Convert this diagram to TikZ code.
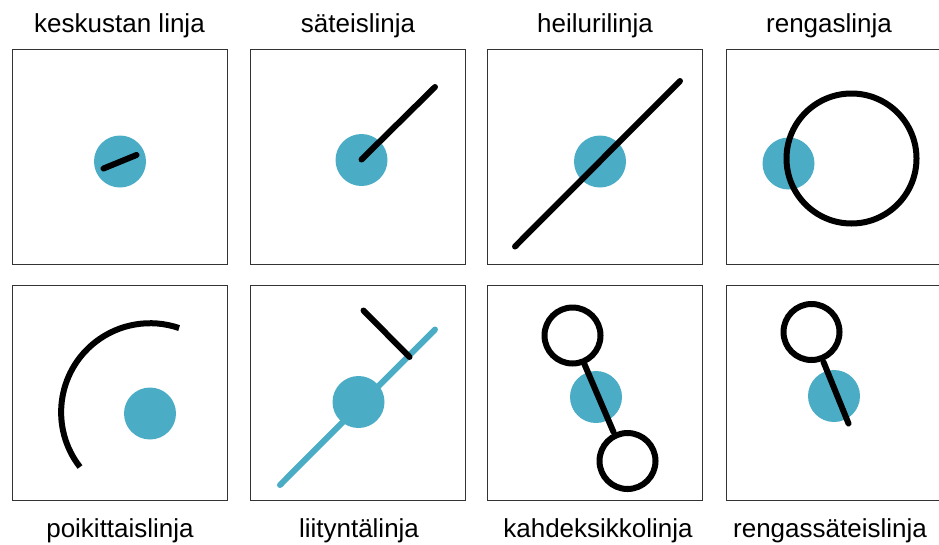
\documentclass[tikz,border=0pt]{standalone}
\usepackage{fontspec}
\setmainfont{Liberation Sans}
\definecolor{stopblue}{RGB}{75,172,198}
\tikzset{
  frame/.style={draw=black!80,line width=1pt},
  stop/.style={fill=stopblue},
  route/.style={line width=6pt,line cap=round},
  loopline/.style={line width=6pt},
  caption/.style={font=\fontsize{26}{30}\selectfont,anchor=base,inner sep=0pt}
}
\begin{document}
\begin{tikzpicture}[x=1pt,y=-1pt]
\useasboundingbox (0,0) rectangle (939,544);
% --- frames ---
\foreach \x in {12,250.5,487.5,726} {
  \draw[frame] (\x,49) rectangle ++(215,215);
  \draw[frame] (\x,285) rectangle ++(215,215);
}
% --- titles ---
\node[caption] (t1) at (119.5,32) {keskustan linja};
\node[caption] (t2) at (358,32) {säteislinja};
\node[caption] (t3) at (595,32) {heilurilinja};
\node[caption] (t4) at (829,32) {rengaslinja};
\node[caption] (b1) at (120,537) {poikittaislinja};
\node[caption] (b2) at (359,537) {liityntälinja};
\node[caption] (b3) at (598,537) {kahdeksikkolinja};
\node[caption] (b4) at (830,537) {rengassäteislinja};
% --- top row ---
\fill[stop] (120,161.5) circle (26pt);
\draw[route] (103.5,168.5) -- (136.5,155);
\fill[stop] (361.5,160) circle (26pt);
\draw[route] (361.5,159.5) -- (435,87);
\fill[stop] (600,161.5) circle (26pt);
\draw[route] (515,246.5) -- (680,81);
\fill[stop] (788.5,163.5) circle (26pt);
\draw[loopline] (851.5,158.5) circle (65pt);
% --- bottom row ---
\fill[stop] (150,413.5) circle (26pt);
\draw[loopline] (80,467) arc[start angle=218,end angle=71,radius=89pt];
\draw[route,stopblue] (280,485) -- (435,329.5);
\fill[stop] (358.5,402) circle (26pt);
\draw[route] (363.5,310.5) -- (409.5,357);
\fill[stop] (596,397) circle (26pt);
\draw[loopline] (572.5,335.5) circle (28pt);
\draw[loopline] (627.5,461) circle (28pt);
\draw[route] (583.5,362) -- (613.5,432);
\fill[stop] (834,396) circle (26pt);
\draw[loopline] (811.5,332) circle (28pt);
\draw[route] (823.5,362) -- (848.5,423.5);
\end{tikzpicture}
\end{document}
